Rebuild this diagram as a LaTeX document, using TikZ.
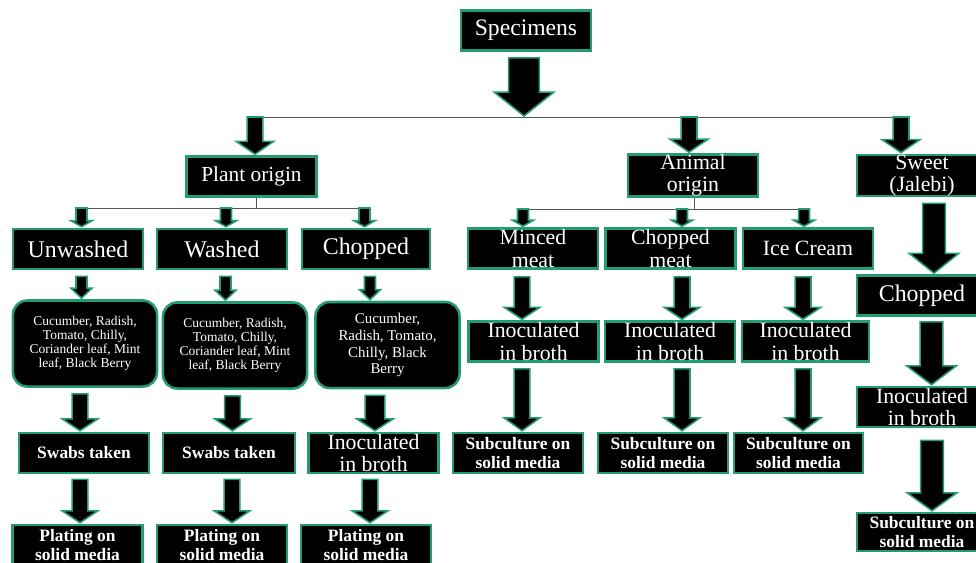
\documentclass[tikz,border=0pt]{standalone}
\usepackage{fontspec}
\setmainfont{Liberation Serif}
\usetikzlibrary{calc}

\definecolor{edgegreen}{RGB}{35,155,115}
\definecolor{linegray}{RGB}{85,85,85}

% one pixel of the sketch
\newcommand{\pxu}{0.70866pt}
% block arrow: start point, target point, half shaft, half head, head length (px)
\newcommand{\blockarrow}[5]{%
  \path[arrowfill] let \p1=(#1), \p2=(#2) in
    (\x1-#3*\pxu,\y1) -- (\x1+#3*\pxu,\y1) -- (\x1+#3*\pxu,\y2+#5*\pxu+\pxu)
    -- (\x1+#4*\pxu,\y2+#5*\pxu+\pxu) -- (\x1,\y2+\pxu)
    -- (\x1-#4*\pxu,\y2+#5*\pxu+\pxu) -- (\x1-#3*\pxu,\y2+#5*\pxu+\pxu) -- cycle;}

\newcommand{\fspec}{\fontsize{16.8pt}{17pt}\selectfont}
\newcommand{\fplant}{\fontsize{15.2pt}{16pt}\selectfont}
\newcommand{\fwash}{\fontsize{17pt}{18pt}\selectfont}
\newcommand{\ftwo}{\fontsize{15.5pt}{15.8pt}\selectfont}
\newcommand{\fprod}{\fontsize{9.6pt}{9.9pt}\selectfont}
\newcommand{\fprodb}{\fontsize{10.6pt}{12pt}\selectfont}
\newcommand{\fbold}{\fontsize{12.4pt}{13.5pt}\selectfont\bfseries}

\begin{document}
\begin{tikzpicture}[x=0.025cm, y=-0.025cm,
  box/.style={draw=edgegreen, line width=1.8pt, fill=black, text=white,
    align=center, inner sep=0pt, minimum width=3.25cm, minimum height=1cm},
  produce/.style={box, rounded corners=10pt, minimum width=3.6cm, minimum height=2.15cm},
  arrowfill/.style={draw=edgegreen, fill=black, line width=1.1pt, line join=miter},
  busline/.style={draw=linegray, line width=0.7pt}]

\useasboundingbox (0,0) rectangle (976,562);

%%% Top
\node[box, font=\fspec] (spec) at (526,30.5) {Specimens};

\coordinate (bplant) at (255,117);
\coordinate (bspec) at (524,117);
\coordinate (banimal) at (689,117);
\coordinate (bsweet) at (901,117);
\draw[busline] (bplant) -- (bsweet);

\node[box, font=\fplant] (plant) at (251.5,176.5) {Plant origin};
\node[box, font=\ftwo] (animal) at (693,175.5) {Animal\\origin};
\node[box, font=\ftwo] (sweet) at (922,175.5) {Sweet\\(Jalebi)};

\blockarrow{$(spec.south)+(-2,6)$}{bspec}{15.5}{30}{24}
\blockarrow{bplant}{plant.north}{8}{19}{13}
\blockarrow{banimal}{animal.north}{8}{19}{13}
\blockarrow{bsweet}{sweet.north}{8}{19}{13}

%%% Plant origin
\coordinate (pl1) at (81.5,208);
\coordinate (pstem) at (256,208);
\coordinate (pl2) at (226,208);
\coordinate (pl3) at (364.5,208);
\draw[busline] (pl1) -- (pl3);
\draw[busline] (plant.south -| pstem) -- (pstem);

\node[box, font=\fwash] (unw) at (78,249) {Unwashed};
\node[box, font=\fwash] (wsh) at (222,249) {Washed};
\node[box, font=\fwash, minimum width=3.2cm] (chp) at (366,249) {Chopped};

\blockarrow{pl1}{unw.north}{5.5}{10.5}{6}
\blockarrow{pl2}{wsh.north}{5.5}{10.5}{6}
\blockarrow{pl3}{chp.north}{5.5}{10.5}{6}

\node[produce, font=\fprod] (prod1) at (85,343.5)
  {Cucumber, Radish,\\Tomato, Chilly,\\Coriander leaf, Mint\\leaf, Black Berry};
\node[produce, font=\fprod] (prod2) at (235,345.5)
  {Cucumber, Radish,\\Tomato, Chilly,\\Coriander leaf, Mint\\leaf, Black Berry};
\node[produce, font=\fprodb] (prod3) at (387.5,345)
  {Cucumber,\\Radish, Tomato,\\Chilly, Black\\Berry};

\blockarrow{$(unw.south)+(3.5,6)$}{prod1.north}{5.5}{10.5}{10}
\blockarrow{$(wsh.south)+(3.5,6)$}{prod2.north}{5.5}{10.5}{10}
\blockarrow{$(chp.south)+(4,6)$}{prod3.north}{5.5}{10.5}{10}

\node[box, font=\fbold] (swab1) at (84,453) {Swabs taken};
\node[box, font=\fbold, minimum width=3.3cm] (swab2) at (229,453) {Swabs taken};
\node[box, font=\ftwo] (inocp) at (373.5,453) {Inoculated\\in broth};

\blockarrow{$(prod1.south)+(-5,6)$}{swab1.north}{8}{18}{12}
\blockarrow{$(prod2.south)+(-2.5,6)$}{swab2.north}{8}{18}{12}
\blockarrow{$(prod3.south)+(-12.5,6)$}{inocp.north}{10}{18.5}{12}

\node[box, font=\fbold] (plate1) at (77.5,545) {Plating on\\solid media};
\node[box, font=\fbold] (plate2) at (222,545) {Plating on\\solid media};
\node[box, font=\fbold] (plate3) at (366,545) {Plating on\\solid media};

\blockarrow{$(swab1.south)+(-4,5)$}{plate1.north}{8}{18}{12}
\blockarrow{$(swab2.south)+(3,5)$}{plate2.north}{8}{18}{12}
\blockarrow{$(inocp.south)+(-3.5,5)$}{plate3.north}{8}{18}{12}

%%% Animal origin
\coordinate (al1) at (523,209);
\coordinate (astem) at (694,209);
\coordinate (al2) at (682,209);
\coordinate (al3) at (804,209);
\draw[busline] (al1) -- (al3);
\draw[busline] (animal.south -| astem) -- (astem);

\node[box, font=\ftwo] (minced) at (533,248.5) {Minced\\meat};
\node[box, font=\ftwo] (chmeat) at (670.5,248.5) {Chopped\\meat};
\node[box, font=\ftwo] (ice) at (808,248.5) {Ice Cream};

\blockarrow{al1}{minced.north}{5.5}{10.5}{6}
\blockarrow{al2}{chmeat.north}{5.5}{10.5}{6}
\blockarrow{al3}{ice.north}{5.5}{10.5}{6}

\node[box, font=\ftwo] (inoc1) at (533.5,341.5) {Inoculated\\in broth};
\node[box, font=\ftwo] (inoc2) at (670,341.5) {Inoculated\\in broth};
\node[box, font=\ftwo, minimum width=3.18cm] (inoc3) at (805.5,341.5) {Inoculated\\in broth};

\blockarrow{$(minced.south)+(-11,7)$}{inoc1.north}{8}{18}{12}
\blockarrow{$(chmeat.south)+(11.5,7)$}{inoc2.north}{8}{18}{12}
\blockarrow{$(ice.south)+(-5,7)$}{inoc3.north}{8}{18}{12}

\node[box, font=\fbold] (sub1) at (518,453) {Subculture on\\solid media};
\node[box, font=\fbold] (sub2) at (663,453) {Subculture on\\solid media};
\node[box, font=\fbold, minimum width=3.22cm] (sub3) at (798.5,453) {Subculture on\\solid media};

\blockarrow{$(inoc1.south)+(-11.5,6)$}{sub1.north}{8}{18}{13}
\blockarrow{$(inoc2.south)+(12,6)$}{sub2.north}{8}{18}{13}
\blockarrow{$(inoc3.south)+(-2.5,6)$}{sub3.north}{8}{18}{13}

%%% Sweet
\node[box, font=\fwash] (jchop) at (922,295.5) {Chopped};
\node[box, font=\ftwo] (jinoc) at (922,407) {Inoculated\\in broth};
\node[box, font=\fbold, minimum height=0.95cm] (jsub) at (922,532) {Subculture on\\solid media};

\blockarrow{$(sweet.south)+(12,6)$}{jchop.north}{11.5}{25}{20}
\blockarrow{$(jchop.south)+(9.5,5)$}{jinoc.north}{11.5}{25}{19}
\blockarrow{$(jinoc.south)+(10,12)$}{jsub.north}{11.5}{25}{18}

\end{tikzpicture}
\end{document}
